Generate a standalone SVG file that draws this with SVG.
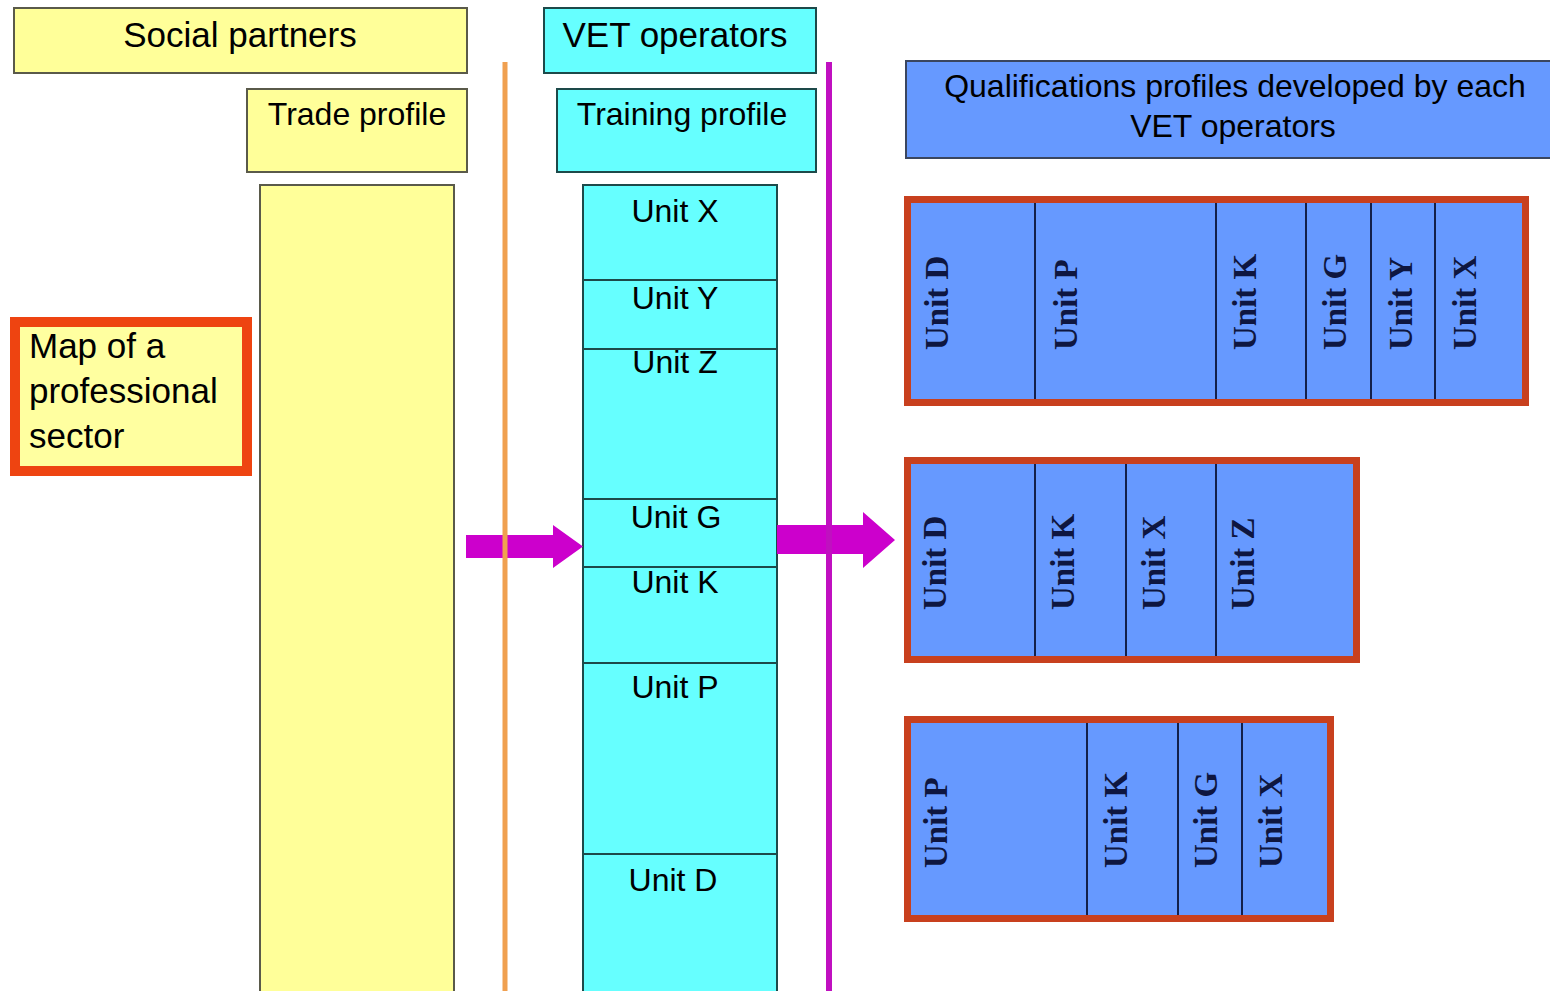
<svg xmlns="http://www.w3.org/2000/svg" width="1550" height="991" viewBox="0 0 1550 991">
<style>
text{font-family:"Liberation Sans",Arial,sans-serif;font-size:32px;fill:#000}
.c{text-anchor:middle}
.big{font-size:35px}
.yl{fill:#FFFF99;stroke:#5a5a4a;stroke-width:2}
.cy{fill:#66FFFF;stroke:#1d4a4a;stroke-width:2}
.qb{fill:#6699FF;stroke:#C8401E;stroke-width:7}
.dv{stroke:#14204a;stroke-width:2}
.v{font-family:"Liberation Serif","Times New Roman",serif;font-weight:bold;font-size:33px;fill:#0e1640}
.arr{fill:#CC00CC}
</style>
<rect width="1550" height="991" fill="#fff"/>
<g id="social-partners"><rect class="yl" x="14" y="8" width="453" height="65"/><text class="c big" x="240" y="47">Social partners</text></g>
<g id="trade-profile"><rect class="yl" x="247" y="89" width="220" height="83"/><text class="c" x="357" y="125">Trade profile</text></g>
<g id="trade-column"><rect class="yl" x="260" y="185" width="194" height="810"/></g>
<g id="map"><rect x="15" y="322" width="232" height="149" fill="#FFFFA0" stroke="#EE4411" stroke-width="10"/>
<text class="big" x="29" y="358">Map of a</text><text class="big" x="29" y="403">professional</text><text class="big" x="29" y="448">sector</text></g>
<g id="vet-operators"><rect class="cy" x="544" y="8" width="272" height="65"/><text class="c big" x="675" y="47">VET operators</text></g>
<g id="training-profile"><rect class="cy" x="557" y="89" width="259" height="83"/><text class="c" x="682" y="125">Training profile</text></g>
<g id="units">
<rect class="cy" x="583" y="185" width="194" height="95"/><text class="c" x="675" y="222">Unit X</text>
<rect class="cy" x="583" y="280" width="194" height="69"/><text class="c" x="675" y="309">Unit Y</text>
<rect class="cy" x="583" y="349" width="194" height="150"/><text class="c" x="675" y="373">Unit Z</text>
<rect class="cy" x="583" y="499" width="194" height="68"/><text class="c" x="676" y="528">Unit G</text>
<rect class="cy" x="583" y="567" width="194" height="96"/><text class="c" x="675" y="593">Unit K</text>
<rect class="cy" x="583" y="663" width="194" height="191"/><text class="c" x="675" y="698">Unit P</text>
<rect class="cy" x="583" y="854" width="194" height="141"/><text class="c" x="673" y="891">Unit D</text>
</g>
<g id="qualifications"><rect x="906" y="61" width="650" height="97" fill="#6699FF" stroke="#3a4660" stroke-width="2"/>
<text class="c" x="1235" y="97">Qualifications profiles developed by each</text><text class="c" x="1233" y="137">VET operators</text></g>
<g id="qual-1"><rect class="qb" x="907.5" y="199.5" width="618" height="203"/>
<line class="dv" x1="1035" y1="203" x2="1035" y2="399"/><line class="dv" x1="1216" y1="203" x2="1216" y2="399"/><line class="dv" x1="1306" y1="203" x2="1306" y2="399"/><line class="dv" x1="1371" y1="203" x2="1371" y2="399"/><line class="dv" x1="1435" y1="203" x2="1435" y2="399"/>
<text class="v" transform="translate(948,350) rotate(-90)">Unit D</text>
<text class="v" transform="translate(1077,350) rotate(-90)">Unit P</text>
<text class="v" transform="translate(1256,350) rotate(-90)">Unit K</text>
<text class="v" transform="translate(1346,350) rotate(-90)">Unit G</text>
<text class="v" transform="translate(1412,350) rotate(-90)">Unit Y</text>
<text class="v" transform="translate(1476,350) rotate(-90)">Unit X</text>
</g>
<g id="qual-2"><rect class="qb" x="907.5" y="460.5" width="449" height="199"/>
<line class="dv" x1="1035" y1="464" x2="1035" y2="656"/><line class="dv" x1="1126" y1="464" x2="1126" y2="656"/><line class="dv" x1="1216" y1="464" x2="1216" y2="656"/>
<text class="v" transform="translate(946,610) rotate(-90)">Unit D</text>
<text class="v" transform="translate(1074,610) rotate(-90)">Unit K</text>
<text class="v" transform="translate(1165,610) rotate(-90)">Unit X</text>
<text class="v" transform="translate(1254,610) rotate(-90)">Unit Z</text>
</g>
<g id="qual-3"><rect class="qb" x="907.5" y="719.5" width="423" height="199"/>
<line class="dv" x1="1087" y1="723" x2="1087" y2="915"/><line class="dv" x1="1178" y1="723" x2="1178" y2="915"/><line class="dv" x1="1242" y1="723" x2="1242" y2="915"/>
<text class="v" transform="translate(947,868) rotate(-90)">Unit P</text>
<text class="v" transform="translate(1127,868) rotate(-90)">Unit K</text>
<text class="v" transform="translate(1217,868) rotate(-90)">Unit G</text>
<text class="v" transform="translate(1282,868) rotate(-90)">Unit X</text>
</g>
<g id="connectors">
<polygon class="arr" points="466,535 553,535 553,525 583,546.5 553,568 553,558 466,558"/>
<polygon class="arr" points="777,525 863,525 863,512 895,540 863,568 863,554 777,554"/>
<line x1="505" y1="62" x2="505" y2="991" stroke="#F0A050" stroke-width="5"/>
<line x1="829" y1="62" x2="829" y2="991" stroke="#C010C0" stroke-width="6"/>
</g>
</svg>
